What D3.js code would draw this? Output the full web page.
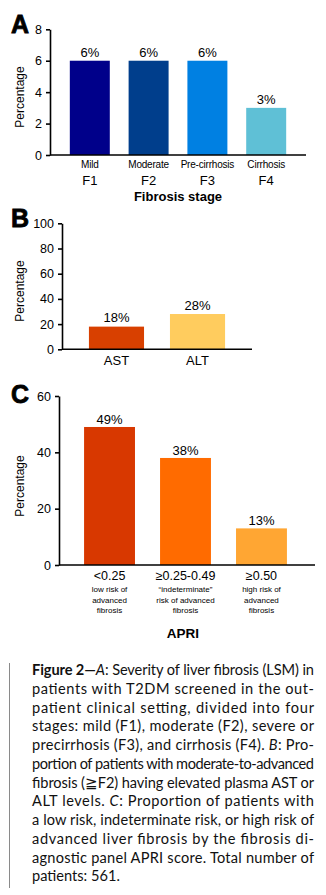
<!DOCTYPE html>
<html lang="en">
<head>
<meta charset="UTF-8">
<title>Figure 2</title>
<script src="https://cdn.jsdelivr.net/npm/d3@7"></script>
<style>
  body { margin: 0; background: #fff; }
  svg { display: block; }
</style>
</head>
<body>
<div id="chart"></div>
<script>
// panel A - fibrosis stage (LSM)
const stagesA = ["Mild", "Moderate", "Pre-cirrhosis", "Cirrhosis"];
const codesA = ["F1", "F2", "F3", "F4"];
const valuesA = [6, 6, 6, 3];
const ticksA = [0, 2, 4, 6, 8];

// panel B - elevated enzymes
const enzymesB = ["AST", "ALT"];
const valuesB = [18, 28];
const ticksB = [0, 20, 40, 60, 80, 100];

// panel C - APRI groups
const groupsC = ["<0.25", "\u22650.25-0.49", "\u22650.50"];
const notesC = [
  ["low risk of", "advanced", "fibrosis"],
  ["\u201cindeterminate\u201d", "risk of advanced", "fibrosis"],
  ["high risk of", "advanced", "fibrosis"]
];
const valuesC = [49, 38, 13];
const ticksC = [0, 20, 40, 60];

// caption lines as printed (last one is not justified)
const captionLines = [
  [["Figure 2\u2014", "b"], ["A", "i"], [": Severity of liver fibrosis (LSM) in", ""]],
  [["patients with T2DM screened in the out-", ""]],
  [["patient clinical setting, divided into four", ""]],
  [["stages: mild (F1), moderate (F2), severe or", ""]],
  [["precirrhosis (F3), and cirrhosis (F4). ", ""], ["B", "i"], [": Pro-", ""]],
  [["portion of patients with moderate-to-advanced", ""]],
  [["fibrosis (\u2267F2) having elevated plasma AST or", ""]],
  [["ALT levels. ", ""], ["C", "i"], [": Proportion of patients with", ""]],
  [["a low risk, indeterminate risk, or high risk of", ""]],
  [["advanced liver fibrosis by the fibrosis di-", ""]],
  [["agnostic panel APRI score. Total number of", ""]],
  [["patients: 561.", ""]]
];

const colorsA = ["#00008a", "#003e8c", "#0080e2", "#5fc0d6"];
const colorsB = ["#d84000", "#ffcc5e"];
const colorsC = ["#d83800", "#ff6b00", "#ffa633"];

const W = 326, H = 895;
const font = "'Liberation Sans', Arial, sans-serif";

const svg = d3.select("#chart").append("svg")
  .attr("width", W).attr("height", H);

// draws one bar panel, returns the x scale so the caller can put labels under it
function panel(cfg) {
  const g = svg.append("g");
  const x = d3.scaleBand().domain(cfg.cats).range(cfg.xr).padding(cfg.pad);
  const y = d3.scaleLinear().domain([0, cfg.max]).range(cfg.yr);

  g.selectAll("rect.bar").data(cfg.vals).join("rect")
    .attr("class", "bar")
    .attr("x", (d, i) => x(cfg.cats[i]))
    .attr("width", x.bandwidth())
    .attr("y", d => y(d))
    .attr("height", d => y(0) - y(d))
    .attr("fill", (d, i) => cfg.colors[i]);

  g.selectAll("text.val").data(cfg.vals).join("text")
    .attr("class", "val")
    .attr("x", (d, i) => x(cfg.cats[i]) + x.bandwidth() / 2)
    .attr("y", d => y(d) - cfg.gap)
    .attr("text-anchor", "middle")
    .attr("font-family", font).attr("font-size", 13)
    .text(d => d + "%");

  const ax = g.append("g")
    .attr("transform", `translate(${cfg.ax},0)`)
    .call(d3.axisLeft(y).tickValues(cfg.ticks).tickSize(4).tickSizeOuter(0).tickPadding(4));
  ax.selectAll("text").attr("font-family", font).attr("font-size", 12.5).attr("fill", "#000");
  ax.selectAll("line").attr("stroke", "#000").attr("stroke-width", 1.6);
  ax.select(".domain").attr("stroke", "#000").attr("stroke-width", 1.6);

  // baseline
  g.append("line")
    .attr("x1", cfg.ax).attr("x2", cfg.xEnd)
    .attr("y1", y(0)).attr("y2", y(0))
    .attr("stroke", "#000").attr("stroke-width", 1.6);

  g.append("text")
    .attr("transform", `translate(24,${cfg.ylabY}) rotate(-90)`)
    .attr("text-anchor", "middle")
    .attr("font-family", font).attr("font-size", 12)
    .text("Percentage");

  g.append("text")
    .attr("x", 11).attr("y", cfg.letterY)
    .attr("font-family", font).attr("font-weight", "bold").attr("font-size", 25)
    .attr("stroke", "#000").attr("stroke-width", 0.8)
    .text(cfg.letter);

  return { g, x, y };
}

// A
const pA = panel({
  cats: stagesA, vals: valuesA, colors: colorsA, ticks: ticksA, max: 8,
  xr: [51, 305], pad: 0.32, yr: [155, 29.3], ax: 50, xEnd: 306,
  gap: 4, ylabY: 97, letter: "A", letterY: 33
});
pA.g.selectAll("text.stage").data(stagesA).join("text")
  .attr("class", "stage")
  .attr("x", d => pA.x(d) + pA.x.bandwidth() / 2)
  .attr("y", 168)
  .attr("text-anchor", "middle")
  .attr("font-family", font).attr("font-size", 10).attr("letter-spacing", -0.2)
  .text(d => d);
pA.g.selectAll("text.code").data(codesA).join("text")
  .attr("class", "code")
  .attr("x", (d, i) => pA.x(stagesA[i]) + pA.x.bandwidth() / 2)
  .attr("y", 185)
  .attr("text-anchor", "middle")
  .attr("font-family", font).attr("font-size", 13)
  .text(d => d);
pA.g.append("text")
  .attr("x", 178).attr("y", 201)
  .attr("text-anchor", "middle")
  .attr("font-family", font).attr("font-weight", "bold").attr("font-size", 13)
  .text("Fibrosis stage");

// B
const pB = panel({
  cats: enzymesB, vals: valuesB, colors: colorsB, ticks: ticksB, max: 100,
  xr: [63, 251], pad: 0.32, yr: [349.3, 223.3], ax: 62, xEnd: 252,
  gap: 4.5, ylabY: 291, letter: "B", letterY: 227
});
pB.g.selectAll("text.cat").data(enzymesB).join("text")
  .attr("class", "cat")
  .attr("x", d => pB.x(d) + pB.x.bandwidth() / 2)
  .attr("y", 365)
  .attr("text-anchor", "middle")
  .attr("font-family", font).attr("font-size", 13)
  .text(d => d);

// C
const pC = panel({
  cats: groupsC, vals: valuesC, colors: colorsC, ticks: ticksC, max: 60,
  xr: [59, 312], pad: 0.33, yr: [565, 396], ax: 59, xEnd: 315,
  gap: 3, ylabY: 486, letter: "C", letterY: 403
});
pC.g.selectAll("text.cat").data(groupsC).join("text")
  .attr("class", "cat")
  .attr("x", d => pC.x(d) + pC.x.bandwidth() / 2)
  .attr("y", 580)
  .attr("text-anchor", "middle")
  .attr("font-family", font).attr("font-size", 12.5)
  .text(d => d);
groupsC.forEach((grp, i) => {
  pC.g.append("text")
    .attr("text-anchor", "middle")
    .attr("font-family", font).attr("font-size", 8)
    .selectAll("tspan").data(notesC[i]).join("tspan")
    .attr("x", pC.x(grp) + pC.x.bandwidth() / 2)
    .attr("y", (d, j) => 592 + j * 10.5)
    .text(d => d);
});
pC.g.append("text")
  .attr("x", 183).attr("y", 638)
  .attr("text-anchor", "middle")
  .attr("font-family", font).attr("font-weight", "bold").attr("font-size", 13.5)
  .text("APRI");

// caption
svg.append("line")
  .attr("x1", 9.5).attr("x2", 9.5).attr("y1", 663).attr("y2", 888)
  .attr("stroke", "#8a8a8a").attr("stroke-width", 1);

const cap = svg.append("g")
  .attr("font-family", "Lato, 'Open Sans', sans-serif")
  .attr("font-size", 14.6).attr("fill", "#111");
captionLines.forEach((parts, i) => {
  const t = cap.append("text")
    .attr("x", 32).attr("y", 675 + i * 18.75);
  parts.forEach(p => {
    const s = t.append("tspan").text(p[0]);
    if (p[1] === "b") s.attr("font-weight", "bold");
    if (p[1] === "i") s.attr("font-style", "italic");
  });
  if (i < captionLines.length - 1) {
    t.attr("textLength", 282).attr("lengthAdjust", "spacing");
  }
});
</script>
</body>
</html>
